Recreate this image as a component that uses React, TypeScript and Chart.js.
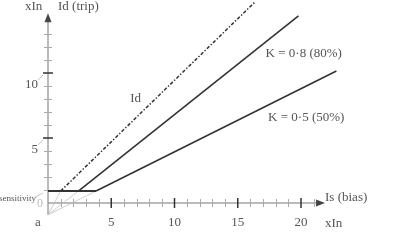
import React, { useEffect, useRef } from "react";
import { Chart, registerables } from "chart.js";
Chart.register(...registerables);

const xMajorTicks = [5, 10, 15, 20];
const yMajorTicks = [5, 10];
const xMinorTicks = [1, 2, 3, 4, 6, 7, 8, 9, 11, 12, 13, 14, 16, 17, 18, 19, 21];
const yMinorTicks = [1, 2, 3, 4, 6, 7, 8, 9, 11, 12, 13];
const sensitivityLine = [{ x: 0, y: 0.92 }, { x: 3.8, y: 0.92 }];
const idLine = [{ x: 1.0, y: 0.92 }, { x: 16.4, y: 15.5 }];
const k80Line = [{ x: 2.4, y: 0.92 }, { x: 19.8, y: 14.4 }];
const k50Line = [{ x: 3.8, y: 0.92 }, { x: 22.8, y: 10.15 }];
const pointA = { x: 0, y: -0.9 };
const breakPoints = [{ x: 1.0, y: 0.92 }, { x: 2.4, y: 0.92 }, { x: 3.8, y: 0.92 }];
const xAxisEnd = 21.9;
const yAxisEnd = 14.6;

const FONT = '"Liberation Serif", "DejaVu Serif", serif';
const TEXT = "#555";

const axesPlugin = {
  id: "axesPlugin",
  beforeDatasetsDraw(chart: any) {
    const ctx = chart.ctx;
    const xs = chart.scales.x;
    const ys = chart.scales.y;
    const px = (v: number) => xs.getPixelForValue(v);
    const py = (v: number) => ys.getPixelForValue(v);
    const x0 = px(0);
    const y0 = py(0);
    ctx.save();
    // axes
    ctx.strokeStyle = "#777";
    ctx.lineWidth = 1;
    ctx.beginPath();
    ctx.moveTo(x0, py(pointA.y));
    ctx.lineTo(x0, py(yAxisEnd) + 8);
    ctx.moveTo(x0, y0);
    ctx.lineTo(px(xAxisEnd) - 8, y0);
    ctx.stroke();
    // arrowheads
    ctx.fillStyle = "#444";
    ctx.beginPath();
    ctx.moveTo(x0, py(yAxisEnd));
    ctx.lineTo(x0 - 3.5, py(yAxisEnd) + 9);
    ctx.lineTo(x0 + 3.5, py(yAxisEnd) + 9);
    ctx.closePath();
    ctx.fill();
    ctx.beginPath();
    ctx.moveTo(px(xAxisEnd), y0);
    ctx.lineTo(px(xAxisEnd) - 9, y0 - 3.5);
    ctx.lineTo(px(xAxisEnd) - 9, y0 + 3.5);
    ctx.closePath();
    ctx.fill();
    // minor ticks
    ctx.strokeStyle = "#aaa";
    ctx.lineWidth = 1;
    ctx.beginPath();
    xMinorTicks.forEach((t) => {
      const x = Math.round(px(t)) + 0.5;
      ctx.moveTo(x, y0 - 4);
      ctx.lineTo(x, y0 + 4);
    });
    yMinorTicks.forEach((t) => {
      const y = Math.round(py(t)) + 0.5;
      ctx.moveTo(x0 - 4, y);
      ctx.lineTo(x0 + 4, y);
    });
    ctx.stroke();
    // major ticks
    ctx.strokeStyle = "#333";
    ctx.lineWidth = 1.5;
    ctx.beginPath();
    xMajorTicks.forEach((t) => {
      const x = px(t);
      ctx.moveTo(x, y0 - 5);
      ctx.lineTo(x, y0 + 5);
    });
    yMajorTicks.forEach((t) => {
      const y = py(t);
      ctx.moveTo(x0 - 5, y);
      ctx.lineTo(x0 + 5, y);
    });
    ctx.stroke();
    // construction lines
    ctx.strokeStyle = "#bbb";
    ctx.lineWidth = 0.7;
    ctx.beginPath();
    breakPoints.forEach((p) => {
      ctx.moveTo(px(pointA.x), py(pointA.y));
      ctx.lineTo(px(p.x), py(p.y));
    });
    ctx.stroke();
    // leader lines
    ctx.strokeStyle = "#aaa";
    ctx.lineWidth = 0.7;
    ctx.beginPath();
    yMajorTicks.forEach((t) => {
      const y = py(t);
      ctx.moveTo(x0 - 10, y + 7);
      ctx.lineTo(x0 - 5, y + 2);
    });
    ctx.moveTo(x0 - 13, py(0.92) + 6);
    ctx.lineTo(x0 - 5, py(0.92) + 2);
    ctx.stroke();

    // texts
    ctx.fillStyle = TEXT;
    ctx.textBaseline = "middle";
    ctx.font = `13px ${FONT}`;
    ctx.textAlign = "center";
    xMajorTicks.forEach((t) => ctx.fillText(String(t), px(t), y0 + 20));
    ctx.textAlign = "right";
    yMajorTicks.forEach((t) => ctx.fillText(String(t), x0 - 10, py(t) + 12));
    ctx.textAlign = "center";
    ctx.fillText("a", x0 - 10, y0 + 20);
    ctx.textAlign = "left";
    ctx.fillText("xIn", px(xAxisEnd), y0 + 21);
    ctx.fillText("Is (bias)", px(xAxisEnd), y0 - 5);
    ctx.fillText("xIn", x0 - 23, py(yAxisEnd) - 7);
    ctx.fillText("Id (trip)", x0 + 10, py(yAxisEnd) - 7);
    ctx.fillText("Id", px(6.5), py(8));
    ctx.fillText("K = 0·8 (80%)", px(17.2), py(11.5));
    ctx.fillText("K = 0·5 (50%)", px(17.4), py(6.6));
    ctx.font = `9px ${FONT}`;
    ctx.textAlign = "right";
    ctx.fillText("sensitivity", x0 - 12, py(0.92) + 8);
    ctx.font = `12px ${FONT}`;
    ctx.fillStyle = "#bbb";
    ctx.textAlign = "center";
    ctx.fillText("0", x0 - 8, y0 + 1);
    ctx.restore();
  },
};

export default function App() {
  const ref = useRef<HTMLCanvasElement | null>(null);
  useEffect(() => {
    document.body.style.margin = "0";
    const canvas = ref.current;
    if (!canvas) return;
    const line = (data: any[], width: number, dash: number[] = []) => ({
      data,
      showLine: true,
      borderColor: "#333",
      borderWidth: width,
      borderDash: dash,
      pointRadius: 0,
      fill: false,
    });
    const chart = new Chart(canvas, {
      type: "scatter",
      data: {
        datasets: [
          line(sensitivityLine, 2),
          line(idLine, 1.5, [3.5, 1.8, 1.4, 1.8]),
          line(k80Line, 1.6),
          line(k50Line, 1.6),
        ],
      },
      options: {
        animation: false,
        responsive: false,
        maintainAspectRatio: false,
        layout: { padding: 0 },
        plugins: { legend: { display: false }, tooltip: { enabled: false } },
        scales: {
          x: { type: "linear", display: false, min: -48 / 12.65, max: (400 - 48) / 12.65 },
          y: { type: "linear", display: false, min: -40 / 13, max: 203 / 13 },
        },
      },
      plugins: [axesPlugin],
    } as any);
    return () => chart.destroy();
  }, []);
  return (
    <div style={{ width: 400, height: 243, background: "#fff" }}>
      <canvas ref={ref} width={400} height={243} style={{ display: "block" }} />
    </div>
  );
}
